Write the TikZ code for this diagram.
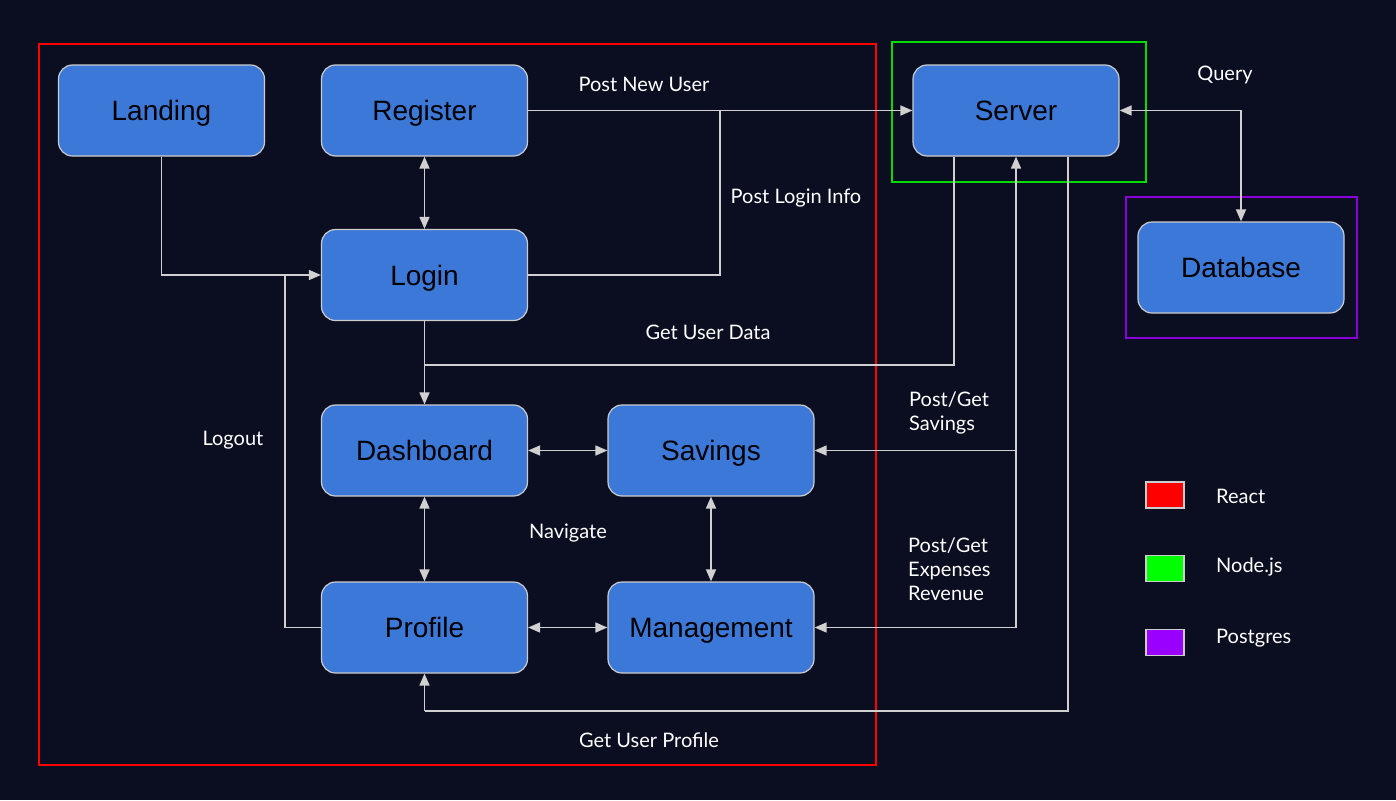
\documentclass[tikz,border=0pt]{standalone}
\usepackage{fontspec}
\setmainfont{Liberation Sans}
\newfontfamily\latofont{Lato}
\usetikzlibrary{arrows.meta}
\definecolor{bgc}{RGB}{10,14,32}
\definecolor{boxc}{RGB}{60,120,216}
\definecolor{edgec}{RGB}{204,204,204}
\definecolor{linec}{RGB}{208,208,208}
\definecolor{greenc}{RGB}{0,220,0}
\definecolor{purplec}{RGB}{140,0,220}
\definecolor{legpurple}{RGB}{153,0,255}
\tikzset{
  comp/.style={draw=edgec, line width=1.2pt, fill=boxc, rounded corners=14pt,
    minimum width=206pt, minimum height=91pt, inner sep=0pt,
    text height=20pt, text depth=0pt,
    font=\fontsize{28}{30}\selectfont, text=black},
  conn/.style={draw=linec, line width=1.6pt},
  arr/.style={conn, -{Triangle[length=12pt,width=10pt]}},
  barr/.style={conn, {Triangle[length=12pt,width=10pt]}-{Triangle[length=12pt,width=10pt]}},
  lbl/.style={text=white, font=\latofont\fontsize{20}{24}\selectfont, inner sep=0pt},
  frame/.style={line width=1.5pt},
  legbox/.style={draw=edgec, line width=1.2pt, minimum width=38pt, minimum height=26pt, inner sep=0pt}
}
\begin{document}
\begin{tikzpicture}[x=1pt,y=-1pt]
\fill[bgc] (0,0) rectangle (1396,800);
\useasboundingbox (0,0) rectangle (1396,800);

% frames
\draw[frame, red] (39,44) rectangle (876,765);
\draw[frame, greenc] (892,42) rectangle (1146,182);
\draw[frame, purplec] (1126,197) rectangle (1357,338);

% nodes
\node[comp] (Landing) at (161.5,110.5) {Landing};
\node[comp] (Register) at (424.5,110.5) {Register};
\node[comp] (Login) at (424.5,275) {Login};
\node[comp] (Server) at (1016,110.5) {Server};
\node[comp] (Database) at (1241,267.5) {Database};
\node[comp] (Dashboard) at (424.5,450.5) {Dashboard};
\node[comp] (Savings) at (711,450.5) {Savings};
\node[comp] (Profile) at (424.5,627.5) {Profile};
\node[comp] (Management) at (711,627.5) {Management};

% coordinates
\coordinate (jLogin) at (720,110.5);
\coordinate (jLogout) at (285,275);
\coordinate (jData) at (424.5,365);
\coordinate (jSav) at (1016,450.5);
\coordinate (jMan) at (1016,627.5);
\coordinate (jProf) at (424.5,711);

% connectors
\draw[arr] (Register.east) -- (Server.west);
\draw[conn] (Login.east) -| (jLogin);
\draw[barr] (Register.south) -- (Login.north);
\draw[arr] (Landing.south) |- (Login.west);
\draw[conn] (Profile.west) -| (jLogout);
\draw[arr] (Login.south) -- (Dashboard.north);
\draw[conn] ([xshift=-62pt]Server.south) |- (jData);
\draw[arr] (jMan) -- (Server.south);
\draw[arr] (jSav) -- (Savings.east);
\draw[arr] (jMan) -- (Management.east);
\draw[conn] ([xshift=52pt]Server.south) |- (jProf);
\draw[arr] (jProf) -- (Profile.south);
\draw[barr] (Server.east) -| (Database.north);
\draw[barr] (Dashboard.east) -- (Savings.west);
\draw[barr] (Dashboard.south) -- (Profile.north);
\draw[barr] (Savings.south) -- (Management.north);
\draw[barr] (Profile.east) -- (Management.west);

% labels
\node[lbl] (lPostNew) at (644,84) {Post New User};
\node[lbl] (lPostLogin) at (796,198) {Post Login Info};
\node[lbl] (lGetData) at (708,332) {Get User Data};
\node[lbl] (lQuery) at (1225,75) {Query};
\node[lbl] (lLogout) at (233,440) {Logout};
\node[lbl] (lNav) at (568,533) {Navigate};
\node[lbl, anchor=west, align=left] (lSav) at (909,413) {Post/Get\\Savings};
\node[lbl, anchor=west, align=left] (lExp) at (908,569) {Post/Get\\Expenses\\Revenue};
\node[lbl] (lProf) at (649,740) {Get User Profile};

% legend
\node[legbox, fill=red] (legR) at (1165,495) {};
\node[legbox, fill={rgb,255:red,0;green,255;blue,0}] (legN) at (1165,568.5) {};
\node[legbox, fill=legpurple] (legP) at (1165,642.5) {};
\node[lbl, anchor=west] (tR) at (1216,496) {React};
\node[lbl, anchor=west] (tN) at (1216,567) {Node.js};
\node[lbl, anchor=west] (tP) at (1216,638) {Postgres};
\end{tikzpicture}
\end{document}
